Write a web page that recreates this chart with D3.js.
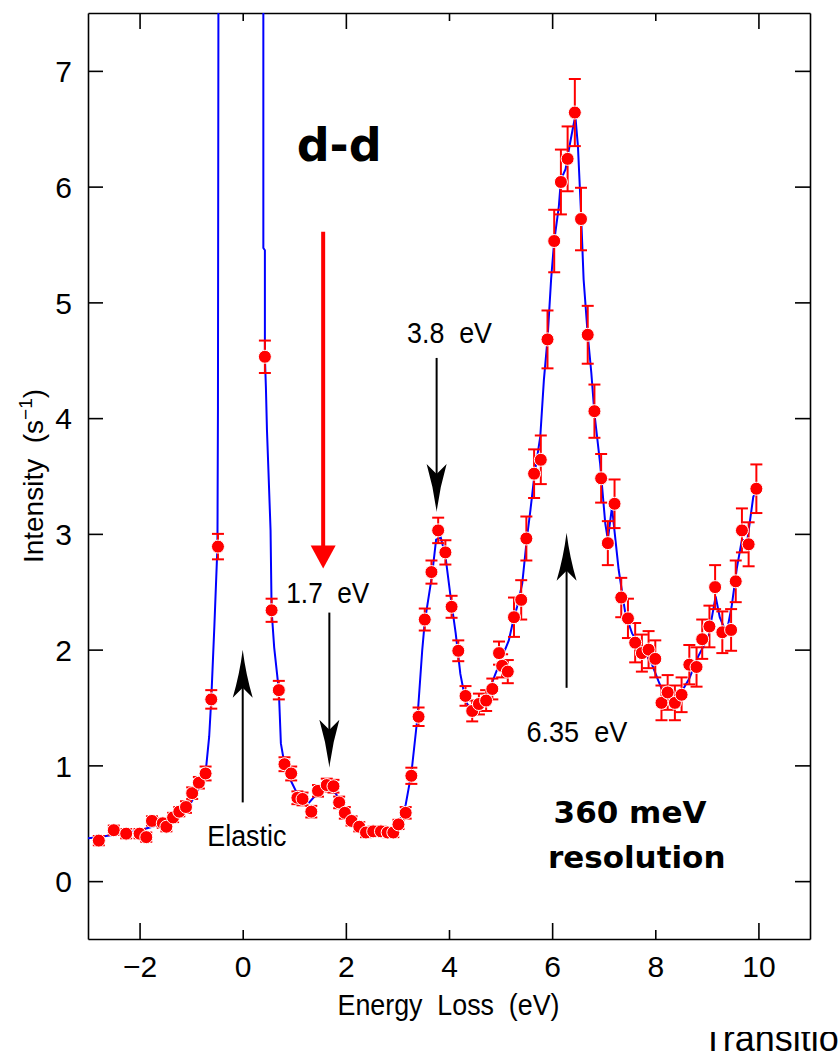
<!DOCTYPE html>
<html>
<head>
<meta charset="utf-8">
<script src="https://cdn.jsdelivr.net/npm/d3@7"></script>
<style>
  html, body { margin: 0; padding: 0; background: #fff; }
  svg { display: block; }
  .thin { font-family: 'Liberation Sans Narrow', 'Liberation Sans', Arial, sans-serif; fill: #000; }
  .bold { font-family: 'DejaVu Sans', sans-serif; font-weight: bold; fill: #000; }
</style>
</head>
<body>
<svg id="chart" width="838" height="1052"></svg>
<script>
const width = 838, height = 1052;
const svg = d3.select("#chart");

// measured data points (eV, counts/s, error)
const energy = [-2.79, -2.50, -2.26, -2.00, -1.87, -1.76, -1.55, -1.48, -1.35, -1.23, -1.10, -0.98, -0.85, -0.72,
  -0.61, -0.48, 0.43, 0.56, 0.70, 0.81, 0.94, 1.06, 1.16, 1.33, 1.46, 1.63, 1.76, 1.87, 1.98, 2.11, 2.26, 2.39,
  2.53, 2.68, 2.81, 2.92, 3.02, 3.16, 3.27, 3.41, 3.53, 3.66, 3.79, 3.93, 4.05, 4.18, 4.32, 4.45, 4.58, 4.72,
  4.84, 4.97, 5.03, 5.14, 5.26, 5.40, 5.50, 5.65, 5.78, 5.91, 6.04, 6.17, 6.30, 6.44, 6.56, 6.69, 6.82, 6.95,
  7.08, 7.21, 7.34, 7.47, 7.61, 7.74, 7.87, 8.00, 8.12, 8.24, 8.38, 8.51, 8.66, 8.80, 8.91, 9.05, 9.16, 9.30,
  9.47, 9.56, 9.68, 9.81, 9.96];
const intensity = [0.35, 0.44, 0.41, 0.41, 0.38, 0.52, 0.50, 0.47, 0.55, 0.60, 0.64, 0.76, 0.85, 0.93,
  1.57, 2.89, 4.53, 2.34, 1.65, 1.01, 0.93, 0.72, 0.71, 0.60, 0.78, 0.83, 0.82, 0.68, 0.59, 0.52, 0.47, 0.42,
  0.43, 0.43, 0.42, 0.42, 0.49, 0.59, 0.91, 1.42, 2.26, 2.67, 3.03, 2.84, 2.37, 1.99, 1.60, 1.47, 1.53, 1.56,
  1.66, 1.97, 1.86, 1.81, 2.28, 2.43, 2.96, 3.52, 3.64, 4.68, 5.53, 6.04, 6.24, 6.64, 5.72, 4.72, 4.06, 3.48,
  2.92, 3.26, 2.45, 2.27, 2.06, 1.97, 2.00, 1.92, 1.54, 1.63, 1.54, 1.61, 1.87, 1.85, 2.09, 2.20, 2.54, 2.15,
  2.17, 2.59, 3.03, 2.91, 3.39];
const errors = [0.04, 0.04, 0.04, 0.04, 0.04, 0.04, 0.04, 0.04, 0.04, 0.04, 0.05, 0.05, 0.05, 0.06,
  0.08, 0.11, 0.14, 0.10, 0.08, 0.06, 0.06, 0.055, 0.055, 0.05, 0.05, 0.055, 0.055, 0.05, 0.05, 0.04, 0.04, 0.04,
  0.04, 0.04, 0.04, 0.04, 0.04, 0.05, 0.07, 0.08, 0.095, 0.10, 0.11, 0.105, 0.095, 0.09, 0.085, 0.09, 0.09, 0.09,
  0.09, 0.10, 0.10, 0.10, 0.17, 0.17, 0.19, 0.21, 0.21, 0.25, 0.27, 0.28, 0.28, 0.29, 0.27, 0.25, 0.23, 0.21,
  0.19, 0.21, 0.17, 0.17, 0.17, 0.16, 0.16, 0.16, 0.15, 0.15, 0.15, 0.15, 0.17, 0.17, 0.17, 0.18, 0.19, 0.18,
  0.18, 0.18, 0.19, 0.19, 0.21];

// fitted curve (blue line)
const fitE = [-3.00, -2.80, -2.50, -2.20, -2.00, -1.75, -1.50, -1.25, -1.00, -0.85, -0.71, -0.65, -0.61, -0.55,
  -0.49, -0.48, -0.47, 0.40, 0.40, 0.43, 0.43, 0.45, 0.47, 0.50, 0.54, 0.56, 0.61, 0.70, 0.74, 0.81, 0.92, 1.03,
  1.15, 1.29, 1.45, 1.62, 1.80, 2.00, 2.20, 2.40, 2.60, 2.80, 3.00, 3.16, 3.27, 3.39, 3.48, 3.53, 3.67, 3.75,
  3.84, 3.93, 4.03, 4.13, 4.22, 4.32, 4.45, 4.58, 4.72, 4.90, 5.06, 5.16, 5.22, 5.32, 5.42, 5.51, 5.58, 5.66,
  5.77, 5.84, 5.91, 5.98, 6.04, 6.13, 6.17, 6.26, 6.32, 6.40, 6.45, 6.50, 6.56, 6.61, 6.69, 6.76, 6.82, 6.93,
  7.03, 7.08, 7.16, 7.29, 7.42, 7.55, 7.68, 7.93, 8.06, 8.20, 8.45, 8.66, 8.83, 9.03, 9.17, 9.25, 9.38, 9.48,
  9.58, 9.68, 9.78, 9.90, 9.98];
const fitI = [0.37, 0.38, 0.40, 0.42, 0.44, 0.47, 0.51, 0.58, 0.68, 0.80, 0.98, 1.25, 1.57, 2.20,
  2.89, 4.10, 8.00, 8.00, 5.47, 5.45, 4.53, 4.26, 3.90, 3.53, 3.03, 2.34, 2.02, 1.65, 1.19, 1.01, 0.88, 0.78,
  0.72, 0.68, 0.76, 0.80, 0.76, 0.62, 0.52, 0.45, 0.42, 0.42, 0.47, 0.66, 0.93, 1.42, 1.99, 2.24, 2.64, 2.95,
  2.97, 2.81, 2.46, 2.14, 1.79, 1.56, 1.45, 1.49, 1.58, 1.79, 1.97, 2.08, 2.20, 2.37, 2.57, 2.96, 3.21, 3.52,
  3.84, 4.33, 4.68, 5.20, 5.53, 5.83, 6.06, 6.15, 6.31, 6.50, 6.61, 6.35, 5.77, 5.20, 4.72, 4.39, 4.04, 3.61,
  3.09, 2.95, 3.23, 2.69, 2.31, 2.14, 2.05, 1.88, 1.73, 1.58, 1.59, 1.75, 1.94, 2.11, 2.46, 2.28, 2.14, 2.37,
  2.70, 2.95, 2.93, 3.32, 3.39];

const xTicks = [-2, 0, 2, 4, 6, 8, 10];
const yTicks = [0, 1, 2, 3, 4, 5, 6, 7];

// peak markers: label, label position, arrow from -> to (data units)
const peakLabels = ["1.7  eV", "3.8  eV", "6.35  eV", "Elastic"];
const labelE = [1.65, 4.01, 6.48, 0.08];
const labelI = [2.40, 4.65, 1.20, 0.30];
const labelWidth = [83, 85, 101, 79];
const arrowE = [1.68, 3.76, 6.28, 0.00];
const arrowFrom = [2.32, 4.52, 1.67, 0.68];
const arrowTo = [0.98, 3.19, 3.01, 2.00];

const margin = { left: 88, right: 28, top: 13, bottom: 113 };
const x = d3.scaleLinear().domain([-3, 11]).range([margin.left, width - margin.right]);
const y = d3.scaleLinear().domain([-0.5, 7.5]).range([height - margin.bottom, margin.top]);

svg.append("rect").attr("width", width).attr("height", height).attr("fill", "#fff");

svg.append("defs").append("clipPath").attr("id", "plotclip")
  .append("rect")
  .attr("x", x(-3)).attr("y", y(7.5))
  .attr("width", x(11) - x(-3)).attr("height", y(-0.5) - y(7.5));

// axes
const axBottom = svg.append("g")
  .attr("transform", `translate(0,${y(-0.5)})`)
  .call(d3.axisBottom(x).tickValues(xTicks).tickSizeOuter(0).tickFormat(d => d < 0 ? "\u2212" + Math.abs(d) : d));
const axTop = svg.append("g")
  .attr("transform", `translate(0,${y(7.5)})`)
  .call(d3.axisTop(x).tickValues(xTicks).tickSizeOuter(0).tickFormat(""));
const axLeft = svg.append("g")
  .attr("transform", `translate(${x(-3)},0)`)
  .call(d3.axisLeft(y).tickValues(yTicks).tickSizeOuter(0).tickSizeInner(-15));
const axRight = svg.append("g")
  .attr("transform", `translate(${x(11)},0)`)
  .call(d3.axisRight(y).tickValues(yTicks).tickSizeOuter(0).tickSizeInner(-15).tickFormat(""));

const longTick = d => Math.abs(d % 4) === 2;
axBottom.selectAll(".tick line").attr("y2", d => longTick(d) ? -16 : -9);
axTop.selectAll(".tick line").attr("y2", d => longTick(d) ? 16 : 8);

[axBottom, axTop, axLeft, axRight].forEach(g => {
  g.select(".domain").attr("stroke", "#000").attr("stroke-width", 1.6);
  g.selectAll(".tick line").attr("stroke", "#000").attr("stroke-width", 1.6);
});

axBottom.selectAll(".tick text")
  .attr("class", "thin").attr("font-size", 30)
  .attr("y", 38).attr("dy", 0);
axLeft.selectAll(".tick text")
  .attr("class", "thin").attr("font-size", 30)
  .attr("x", -16).attr("dy", "0.36em");

svg.append("text").attr("class", "thin")
  .attr("x", 448.5).attr("y", 1015)
  .attr("text-anchor", "middle").attr("font-size", 29)
  .attr("textLength", 222).attr("lengthAdjust", "spacingAndGlyphs")
  .style("white-space", "pre")
  .text("Energy  Loss  (eV)");

const ylab = svg.append("text").attr("class", "thin")
  .attr("transform", `translate(43,${y(3.5)}) rotate(-90)`)
  .attr("text-anchor", "middle").attr("font-size", 28)
  .style("white-space", "pre");
ylab.append("tspan").text("Intensity  (s");
ylab.append("tspan").attr("dy", -11).attr("font-size", 19).text("\u22121");
ylab.append("tspan").attr("dy", 11).text(")");

// fit line
const fit = fitE.map((e, i) => [e, fitI[i]]);
svg.append("path")
  .datum(fit)
  .attr("clip-path", "url(#plotclip)")
  .attr("fill", "none")
  .attr("stroke", "#0000ff")
  .attr("stroke-width", 2)
  .attr("d", d3.line().x(d => x(d[0])).y(d => y(d[1])));

// data with error bars
const pts = energy.map((e, i) => ({ e, v: intensity[i], err: errors[i] }));
const bars = svg.append("g").attr("stroke", "#ff0000").attr("stroke-width", 2);
pts.forEach(d => {
  bars.append("line").attr("x1", x(d.e)).attr("x2", x(d.e))
    .attr("y1", y(d.v - d.err)).attr("y2", y(d.v + d.err));
  [d.v - d.err, d.v + d.err].forEach(v => {
    bars.append("line").attr("x1", x(d.e) - 6).attr("x2", x(d.e) + 6)
      .attr("y1", y(v)).attr("y2", y(v));
  });
});
svg.append("g").selectAll("circle")
  .data(pts)
  .join("circle")
  .attr("cx", d => x(d.e))
  .attr("cy", d => y(d.v))
  .attr("r", 6.5)
  .attr("fill", "#ff0000")
  .attr("stroke", "#fff")
  .attr("stroke-width", 1);

// black arrows
function dartHead(cx, tip, dir) {
  // dir = +1 pointing down, -1 pointing up
  const L = 48, W = 10, N = 38;
  return `M${cx},${tip} Q${cx - 3},${tip - dir * 24} ${cx - W},${tip - dir * L} L${cx},${tip - dir * N} L${cx + W},${tip - dir * L} Q${cx + 3},${tip - dir * 24} ${cx},${tip} Z`;
}
peakLabels.forEach((lab, i) => {
  const cx = x(arrowE[i]);
  const y0 = y(arrowFrom[i]), y1 = y(arrowTo[i]);
  const dir = y1 > y0 ? 1 : -1;
  svg.append("line")
    .attr("x1", cx).attr("x2", cx)
    .attr("y1", y0).attr("y2", y1 - dir * 30)
    .attr("stroke", "#000").attr("stroke-width", 2);
  svg.append("path").attr("d", dartHead(cx, y1, dir)).attr("fill", "#000");
  svg.append("text").attr("class", "thin")
    .attr("x", x(labelE[i])).attr("y", y(labelI[i]))
    .attr("text-anchor", "middle").attr("font-size", 29)
    .attr("textLength", labelWidth[i]).attr("lengthAdjust", "spacingAndGlyphs")
    .style("white-space", "pre")
    .text(lab);
});

// red d-d arrow
const redE = 1.56, redFrom = 5.61, redTo = 2.70;
svg.append("line")
  .attr("x1", x(redE)).attr("x2", x(redE))
  .attr("y1", y(redFrom)).attr("y2", y(redTo) - 20)
  .attr("stroke", "#ff0000").attr("stroke-width", 4);
svg.append("path")
  .attr("d", `M${x(redE)},${y(redTo)} L${x(redE) - 12.5},${y(redTo) - 23} L${x(redE) + 12.5},${y(redTo) - 23} Z`)
  .attr("fill", "#ff0000");

svg.append("text").attr("class", "bold")
  .attr("x", x(1.87)).attr("y", y(6.22))
  .attr("text-anchor", "middle").attr("font-size", 46)
  .text("d-d");
svg.append("text").attr("class", "bold")
  .attr("x", x(7.51)).attr("y", y(0.50))
  .attr("text-anchor", "middle").attr("font-size", 31)
  .text("360 meV");
svg.append("text").attr("class", "bold")
  .attr("x", x(7.64)).attr("y", y(0.115))
  .attr("text-anchor", "middle").attr("font-size", 31)
  .text("resolution");

// caption below the chart, partly hidden as in the original slide
svg.append("defs").append("clipPath").attr("id", "capclip")
  .append("rect").attr("x", 0).attr("y", 1032).attr("width", width).attr("height", 30);
svg.append("text")
  .attr("clip-path", "url(#capclip)")
  .attr("x", 702).attr("y", 1051)
  .attr("font-family", "'Liberation Sans', Arial, sans-serif")
  .attr("font-size", 36)
  .attr("fill", "#000")
  .text("Transitions");
</script>
</body>
</html>
